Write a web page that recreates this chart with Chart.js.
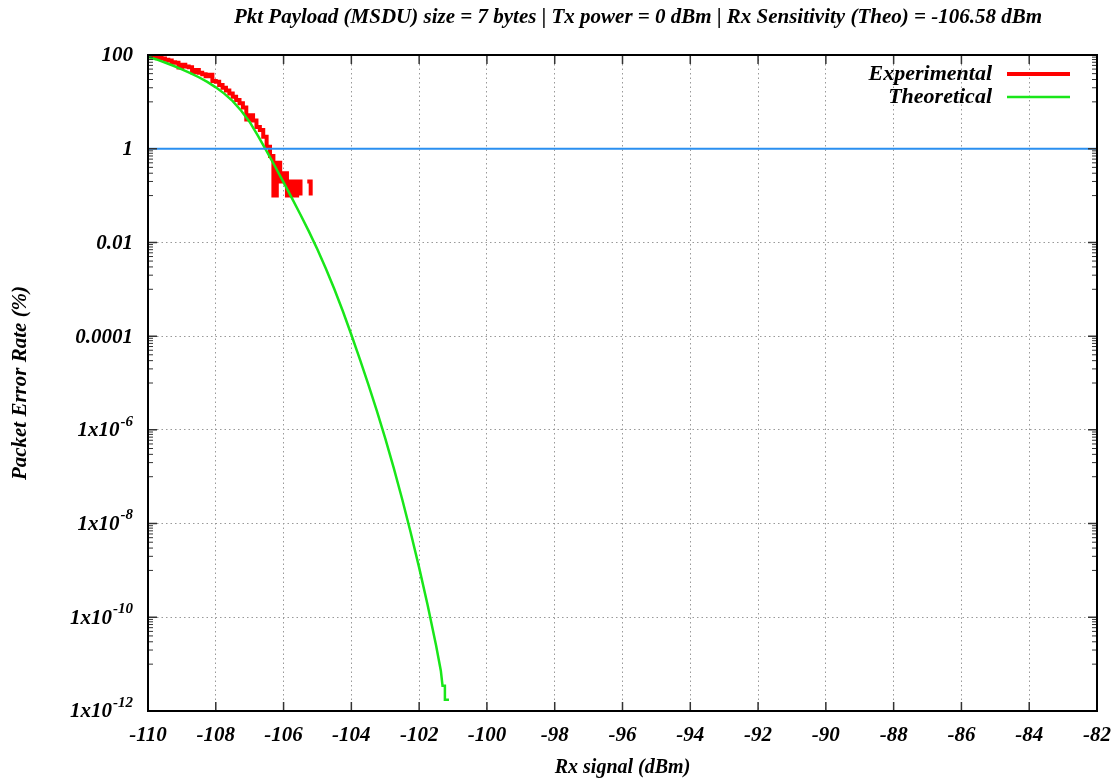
<!DOCTYPE html>
<html>
<head>
<meta charset="utf-8">
<script src="https://cdn.jsdelivr.net/npm/chart.js@4.4.1/dist/chart.umd.min.js"></script>
<style>
  body { margin: 0; background: #fff; }
  #wrap { width: 1112px; height: 780px; }
</style>
</head>
<body>
<div id="wrap"><canvas id="per-chart"></canvas></div>
<script>
const chartTitle = 'Pkt Payload (MSDU) size = 7 bytes | Tx power = 0 dBm | Rx Sensitivity (Theo) = -106.58 dBm';

// Experimental PER (%) vs Rx signal (dBm)
const expX = [-110.0, -109.9, -109.8, -109.7, -109.6, -109.5, -109.4, -109.3, -109.2, -109.1,
              -109.0, -108.9, -108.8, -108.7, -108.6, -108.5, -108.4, -108.3, -108.2, -108.1,
              -108.0, -107.9, -107.8, -107.7, -107.6, -107.5, -107.4, -107.3, -107.2, -107.1,
              -107.0, -106.9, -106.8, -106.7, -106.6, -106.5, -106.4, -106.3, -106.2, -106.1,
              -106.0, -105.9, -105.8, -105.7, -105.6, -105.5, -105.4, -105.3, -105.2];
const expPer = [97, 93, 94, 86, 84, 79, 76, 70, 68, 54,
                62, 57, 55, 43, 48, 42, 39, 35, 38, 28,
                27, 23, 20, 17.5, 15, 12.8, 11, 9.3, 7.6, 4.2,
                5.2, 4.0, 2.9, 2.5, 1.8, 1.1, 0.7, 0.1, 0.5, 0.2,
                0.3, 0.1, 0.2, 0.1, 0.2, 0.1, null, 0.2, 0.1];

// Theoretical PER (%)
const theoX = [-110.0, -109.75, -109.5, -109.25, -109.0, -108.75, -108.5, -108.25, -108.0, -107.75,
               -107.5, -107.25, -107.0, -106.75, -106.5, -106.25, -106.0, -105.75, -105.5, -105.25,
               -105.0, -104.75, -104.5, -104.25, -104.0, -103.75, -103.5, -103.25, -103.0, -102.75,
               -102.5, -102.25, -102.0, -101.75, -101.5, -101.36, -101.31, -101.24, -101.24, -101.12];
const theoPer = [92.3, 80.4, 69.2, 58.9, 49.5, 41.2, 33.5, 26.6, 20.4, 15.0,
                 10.4, 6.46, 3.72, 1.86, 0.891, 0.417, 0.191, 0.0871, 0.0389, 0.0170,
                 7.08e-3, 2.75e-3, 1.0e-3, 3.39e-4, 1.07e-4, 3.24e-5, 9.33e-6, 2.57e-6, 6.61e-7, 1.55e-7,
                 3.31e-8, 6.46e-9, 1.15e-9, 1.82e-10, 2.51e-11, 7.24e-12, 3.47e-12, 3.47e-12, 1.74e-12, 1.74e-12];

// 1 % reference level
const refX = [-110, -82];
const refPer = [1, 1];

// Axis ticks
const yTickValues = [1e-12, 1e-10, 1e-8, 1e-6, 1e-4, 1e-2, 1, 100];
const yTickLabels = ['1x10^-12', '1x10^-10', '1x10^-8', '1x10^-6', '0.0001', '0.01', '1', '100'];

const serif = '"Liberation Serif", "Times New Roman", serif';
const bi = (size) => ({ family: serif, size: size, style: 'italic', weight: 'bold' });

function points(xs, ys) {
    return xs.map((x, i) => ({ x: x, y: ys[i] }));
}

// title, border, inward ticks, y labels with exponents, legend
const framePlugin = {
    id: 'frame',
    afterDraw(chart) {
        const ctx = chart.ctx;
        const area = chart.chartArea;
        const xs = chart.scales.x;
        const ys = chart.scales.y;

        ctx.save();
        // title
        ctx.fillStyle = '#000';
        ctx.font = 'italic bold 21px ' + serif;
        ctx.textAlign = 'center';
        ctx.textBaseline = 'middle';
        ctx.fillText(chartTitle, 638, 18);

        // major ticks
        ctx.strokeStyle = '#333';
        ctx.lineWidth = 1.5;
        ctx.beginPath();
        xs.ticks.forEach(t => {
            const px = xs.getPixelForValue(t.value);
            ctx.moveTo(px, area.bottom); ctx.lineTo(px, area.bottom - 9);
            ctx.moveTo(px, area.top); ctx.lineTo(px, area.top + 9);
        });
        yTickValues.forEach(v => {
            const py = ys.getPixelForValue(v);
            ctx.moveTo(area.left, py); ctx.lineTo(area.left + 9, py);
            ctx.moveTo(area.right, py); ctx.lineTo(area.right - 9, py);
        });
        ctx.stroke();

        // minor ticks
        ctx.lineWidth = 1;
        ctx.beginPath();
        yTickValues.slice(0, -1).forEach(m => {
            for (let k = 1; k <= 9; k++) {
                const py = ys.getPixelForValue(k * m * 10);
                ctx.moveTo(area.left, py); ctx.lineTo(area.left + 5, py);
                ctx.moveTo(area.right, py); ctx.lineTo(area.right - 5, py);
            }
        });
        ctx.stroke();

        // frame
        ctx.strokeStyle = '#000';
        ctx.lineWidth = 2;
        ctx.strokeRect(area.left, area.top, area.right - area.left, area.bottom - area.top);

        // y tick labels
        ctx.textAlign = 'left';
        const mainFont = 'italic bold 21px ' + serif;
        const supFont = 'italic bold 15px ' + serif;
        const right = area.left - 15;
        yTickValues.forEach((v, i) => {
            const py = ys.getPixelForValue(v);
            const parts = yTickLabels[i].split('^');
            ctx.font = mainFont;
            const w0 = ctx.measureText(parts[0]).width;
            let w1 = 0;
            if (parts[1]) {
                ctx.font = supFont;
                w1 = ctx.measureText(parts[1]).width + 1;
            }
            ctx.font = mainFont;
            ctx.fillText(parts[0], right - w1 - w0, py + 1);
            if (parts[1]) {
                ctx.font = supFont;
                ctx.fillText(parts[1], right - w1 + 1, py - 8);
            }
        });

        // legend
        ctx.font = 'italic bold 22px ' + serif;
        ctx.textAlign = 'right';
        [0, 1].forEach((d, i) => {
            const ds = chart.data.datasets[d];
            const ly = area.top + 19 + i * 23;
            ctx.fillStyle = '#000';
            ctx.fillText(ds.label, area.right - 105, ly);
            ctx.strokeStyle = ds.borderColor;
            ctx.lineWidth = ds.borderWidth;
            ctx.beginPath();
            ctx.moveTo(area.right - 90, ly);
            ctx.lineTo(area.right - 27, ly);
            ctx.stroke();
        });
        ctx.restore();
    }
};

function createPerChart() {
    const node = document.getElementById('per-chart');

    new Chart(node, {
        type: 'line',
        data: {
            datasets: [
                {
                    label: 'Experimental',
                    data: points(expX, expPer),
                    borderColor: '#ff0000',
                    borderWidth: 4,
                    stepped: true,
                    pointRadius: 0,
                    order: 2,
                },
                {
                    label: 'Theoretical',
                    data: points(theoX, theoPer),
                    borderColor: '#19e619',
                    borderWidth: 2.5,
                    pointRadius: 0,
                    order: 1,
                },
                {
                    label: 'Reference',
                    data: points(refX, refPer),
                    borderColor: '#2a8ff0',
                    borderWidth: 2,
                    pointRadius: 0,
                    order: 0,
                },
            ],
        },
        options: {
            responsive: true,
            maintainAspectRatio: false,
            animation: false,
            layout: { padding: { left: 0, right: 15, top: 55, bottom: 0 } },
            plugins: {
                legend: { display: false },
                tooltip: { enabled: false },
                title: { display: false },
            },
            scales: {
                x: {
                    type: 'linear',
                    min: -110,
                    max: -82,
                    ticks: {
                        stepSize: 2,
                        color: '#000',
                        font: bi(21),
                        padding: 12,
                        maxRotation: 0,
                    },
                    grid: {
                        color: '#999',
                        drawTicks: false,
                    },
                    border: { display: false, dash: [1.5, 3] },
                    title: {
                        display: true,
                        text: 'Rx signal (dBm)',
                        color: '#000',
                        font: bi(20),
                        padding: { top: 0, bottom: 0 },
                    },
                    afterFit(scale) {
                        scale.height = 69;
                        scale.paddingLeft = 0;
                        scale.paddingRight = 0;
                    },
                },
                y: {
                    type: 'logarithmic',
                    min: 1e-12,
                    max: 100,
                    afterBuildTicks(scale) {
                        scale.ticks = yTickValues.map(v => ({ value: v }));
                    },
                    ticks: { display: false },
                    grid: {
                        color: '#999',
                        drawTicks: false,
                    },
                    border: { display: false, dash: [1.5, 3] },
                    title: {
                        display: true,
                        text: 'Packet Error Rate (%)',
                        color: '#000',
                        font: bi(21),
                        padding: { top: 8, bottom: 0 },
                    },
                    afterFit(scale) {
                        scale.width = 148;
                        scale.paddingTop = 0;
                        scale.paddingBottom = 0;
                    },
                },
            },
        },
        plugins: [framePlugin],
    });
}

createPerChart();
</script>
</body>
</html>
